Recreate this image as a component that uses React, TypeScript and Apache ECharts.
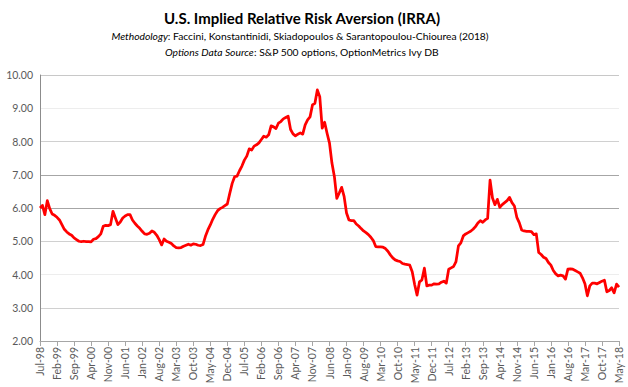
import React, { useEffect, useRef } from "react";
import * as echarts from "echarts";

const monthNames = ["Jan", "Feb", "Mar", "Apr", "May", "Jun", "Jul", "Aug", "Sep", "Oct", "Nov", "Dec"];
const startYear = 1998;
const startMonth = 6; // Jul

const irraValues: number[] = [
  // Jul-98 .. Dec-98
  6.00, 6.08, 5.80, 6.22, 5.98, 5.82,
  // 1999
  5.78, 5.72, 5.64, 5.50, 5.36, 5.28, 5.22, 5.18, 5.10, 5.05, 5.00, 4.99,
  // 2000
  5.00, 4.99, 4.99, 4.98, 5.06, 5.08, 5.14, 5.22, 5.45, 5.48, 5.47, 5.50,
  // 2001
  5.90, 5.70, 5.50, 5.58, 5.70, 5.76, 5.80, 5.80, 5.64, 5.54, 5.46, 5.39,
  // 2002
  5.30, 5.22, 5.21, 5.24, 5.31, 5.27, 5.18, 5.05, 4.89, 5.07, 5.00, 4.97,
  // 2003
  4.93, 4.86, 4.81, 4.80, 4.81, 4.85, 4.88, 4.91, 4.88, 4.92, 4.91, 4.88,
  // 2004
  4.87, 4.90, 5.15, 5.34, 5.49, 5.66, 5.80, 5.92, 5.98, 6.02, 6.07, 6.12,
  // 2005
  6.44, 6.74, 6.94, 6.96, 7.12, 7.26, 7.44, 7.56, 7.78, 7.74, 7.86, 7.90,
  // 2006
  7.96, 8.06, 8.16, 8.13, 8.20, 8.47, 8.44, 8.39, 8.55, 8.60, 8.68, 8.72,
  // 2007
  8.76, 8.36, 8.23, 8.17, 8.22, 8.26, 8.22, 8.50, 8.65, 8.74, 9.10, 9.15,
  // 2008
  9.55, 9.35, 8.40, 8.58, 8.25, 7.95, 7.35, 6.95, 6.29, 6.45, 6.62, 6.35,
  // 2009
  5.85, 5.64, 5.62, 5.62, 5.52, 5.46, 5.38, 5.31, 5.26, 5.20, 5.12, 5.02,
  // 2010
  4.84, 4.83, 4.83, 4.82, 4.78, 4.70, 4.59, 4.50, 4.44, 4.41, 4.39, 4.33,
  // 2011
  4.31, 4.30, 4.28, 4.08, 3.70, 3.38, 3.78, 3.84, 4.19, 3.66, 3.68, 3.68,
  // 2012
  3.72, 3.71, 3.72, 3.77, 3.80, 3.74, 4.16, 4.20, 4.24, 4.39, 4.86, 4.95,
  // 2013
  5.16, 5.22, 5.26, 5.30, 5.36, 5.44, 5.55, 5.62, 5.57, 5.64, 5.69, 6.84,
  // 2014
  6.30, 6.10, 6.26, 6.02, 6.10, 6.16, 6.22, 6.32, 6.16, 6.06, 5.72, 5.56,
  // 2015
  5.34, 5.31, 5.30, 5.30, 5.29, 5.20, 5.22, 4.66, 4.60, 4.52, 4.48, 4.36,
  // 2016
  4.28, 4.12, 4.02, 3.96, 3.98, 3.96, 3.86, 4.16, 4.17, 4.16, 4.12, 4.08,
  // 2017
  4.04, 3.90, 3.72, 3.36, 3.66, 3.74, 3.74, 3.72, 3.76, 3.80, 3.83, 3.48,
  // 2018 Jan..May
  3.52, 3.60, 3.45, 3.71, 3.62,
];

const monthLabels: string[] = irraValues.map((_, i) => {
  const t = startMonth + i;
  const y = startYear + Math.floor(t / 12);
  return monthNames[t % 12] + "-" + String(y % 100).padStart(2, "0");
});

const titleText = "U.S. Implied Relative Risk Aversion (IRRA)";
const methodologyLabel = "Methodology";
const methodologyText = ": Faccini, Konstantinidi, Skiadopoulos & Sarantopoulou-Chiourea (2018)";
const sourceLabel = "Options Data Source";
const sourceText = ": S&P 500 options, OptionMetrics Ivy DB";

const yMin = 2;
const yMax = 10;
const gridColors = ["#bfbfbf", "#d0d0d0", "#ededed", "#d0d0d0", "#a6a6a6", "#a6a6a6", "#d0d0d0", "#ededed", "#c8c8c8"];

const FONT = "Lato, 'Open Sans', sans-serif";

export default function App() {
  const ref = useRef<HTMLDivElement>(null);
  useEffect(() => {
    if (!ref.current) return;
    const chart = echarts.init(ref.current, undefined, { renderer: "svg" });
    chart.setOption({
      animation: false,
      backgroundColor: "#ffffff",
      textStyle: { fontFamily: FONT },
      graphic: [
        {
          type: "text",
          x: 302,
          y: 10,
          style: {
            text: titleText,
            font: "bold 15px " + FONT,
            fill: "#000000",
            textAlign: "center",
          },
        },
        {
          type: "text",
          x: 300,
          y: 31,
          style: {
            text: "{i|" + methodologyLabel + "}{n|" + methodologyText + "}",
            textAlign: "center",
            rich: {
              i: { fontStyle: "italic", fontSize: 10.3, fontFamily: FONT, fill: "#000" },
              n: { fontSize: 10.3, fontFamily: FONT, fill: "#000" },
            },
          },
        },
        {
          type: "text",
          x: 302,
          y: 47,
          style: {
            text: "{i|" + sourceLabel + "}{n|" + sourceText + "}",
            textAlign: "center",
            rich: {
              i: { fontStyle: "italic", fontSize: 10.3, fontFamily: FONT, fill: "#000" },
              n: { fontSize: 10.3, fontFamily: FONT, fill: "#000" },
            },
          },
        },
      ],
      grid: { left: 40, right: 9, top: 75, bottom: 46, containLabel: false },
      xAxis: {
        type: "category",
        data: monthLabels,
        boundaryGap: false,
        axisLine: { show: true, lineStyle: { color: "#a6a6a6", width: 1 } },
        axisTick: { show: true, interval: 6, length: 5, lineStyle: { color: "#a6a6a6" } },
        axisLabel: {
          interval: 6,
          rotate: 90,
          color: "#595959",
          fontSize: 10.5,
          fontFamily: FONT,
          margin: 6,
        },
        splitLine: { show: false },
      },
      yAxis: {
        type: "value",
        min: yMin,
        max: yMax,
        interval: 1,
        axisLine: { show: true, lineStyle: { color: "#8c8c8c", width: 1 } },
        axisTick: { show: false },
        axisLabel: {
          color: "#595959",
          fontSize: 10.5,
          fontFamily: FONT,
          margin: 7,
          formatter: (v: number) => v.toFixed(2),
        },
        splitLine: { show: true, lineStyle: { color: gridColors, width: 1 } },
      },
      series: [
        {
          type: "line",
          data: irraValues,
          showSymbol: false,
          symbol: "none",
          lineStyle: { color: "#ff0000", width: 2.75, join: "round" },
          itemStyle: { color: "#ff0000" },
        },
      ],
    });
    return () => chart.dispose();
  }, []);
  return (
    <div
      ref={ref}
      style={{ position: "absolute", left: 0, top: 0, width: 628, height: 387, overflow: "hidden" }}
    />
  );
}
